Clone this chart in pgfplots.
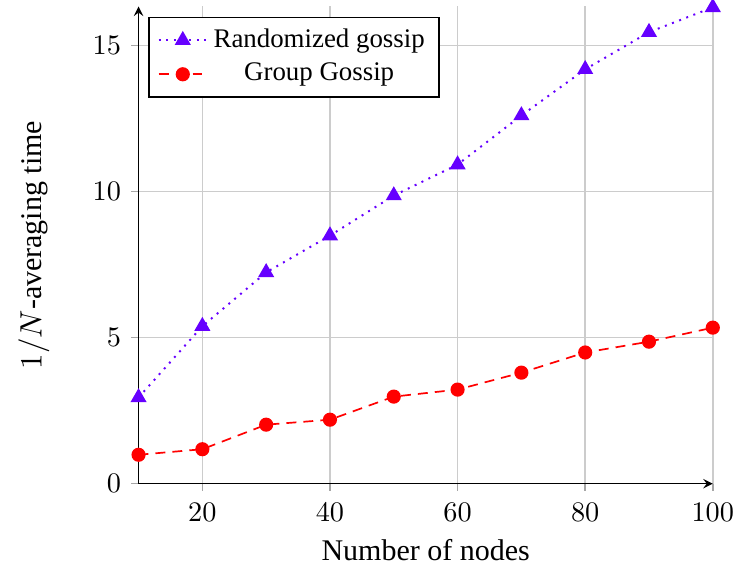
\documentclass[border=0pt]{standalone}
\usepackage{fontspec}
\setmainfont{Liberation Serif}
\usepackage{pgfplots}
\pgfplotsset{compat=1.18}
\definecolor{myviolet}{RGB}{102,0,255}
\definecolor{myred}{RGB}{255,0,0}
\begin{document}
\fontsize{10.6}{13}\selectfont
\begin{tikzpicture}
\begin{axis}[
  scale only axis,
  width=203pt, height=168.7pt,
  xmin=10, xmax=100, ymin=0, ymax=16.33,
  axis lines=left,
  axis line style={line width=0.5pt},
  tick align=outside,
  major tick length=2.5pt,
  tick style={gray!70, line width=0.5pt},
  xtick={20,40,60,80,100},
  ytick={0,5,10,15},
  grid=major,
  grid style={gray!40, line width=0.5pt},
  xlabel={Number of nodes},
  ylabel={$1/N$-averaging time},
  xlabel style={yshift=1pt},
  ylabel style={yshift=8pt},
  xticklabel style={yshift=-0.7pt},
  legend style={at={(axis description cs:0.017,0.979)}, anchor=north west, draw=black, line width=0.6pt, font=\fontsize{9.5}{12}\selectfont},
  legend cell align=center,
  tick label style={font=\fontsize{10.4}{12}\selectfont},
  label style={font=\fontsize{10.6}{13}\selectfont},
]
\addplot[color=myviolet, dotted, line width=0.7pt, mark=triangle*, mark size=2.6pt, mark options={solid, fill=myviolet}]
coordinates {(10,2.95) (20,5.39) (30,7.23) (40,8.49) (50,9.86) (60,10.92) (70,12.6) (80,14.18) (90,15.45) (100,16.3)};
\addlegendentry{Randomized gossip}
\addplot[color=myred, dash pattern=on 3.5pt off 2.5pt, line width=0.6pt, mark=*, mark size=2.2pt, mark options={solid, fill=myred}]
coordinates {(10,0.99) (20,1.18) (30,2.02) (40,2.19) (50,2.98) (60,3.22) (70,3.8) (80,4.49) (90,4.86) (100,5.34)};
\addlegendentry{Group Gossip}
\end{axis}
\path (current bounding box.west) ++(-3pt,0) coordinate (extL);
\path (extL) (current bounding box.south) ++(0,-1pt) coordinate (extB);
\path (extL) (extB);
\end{tikzpicture}
\end{document}
